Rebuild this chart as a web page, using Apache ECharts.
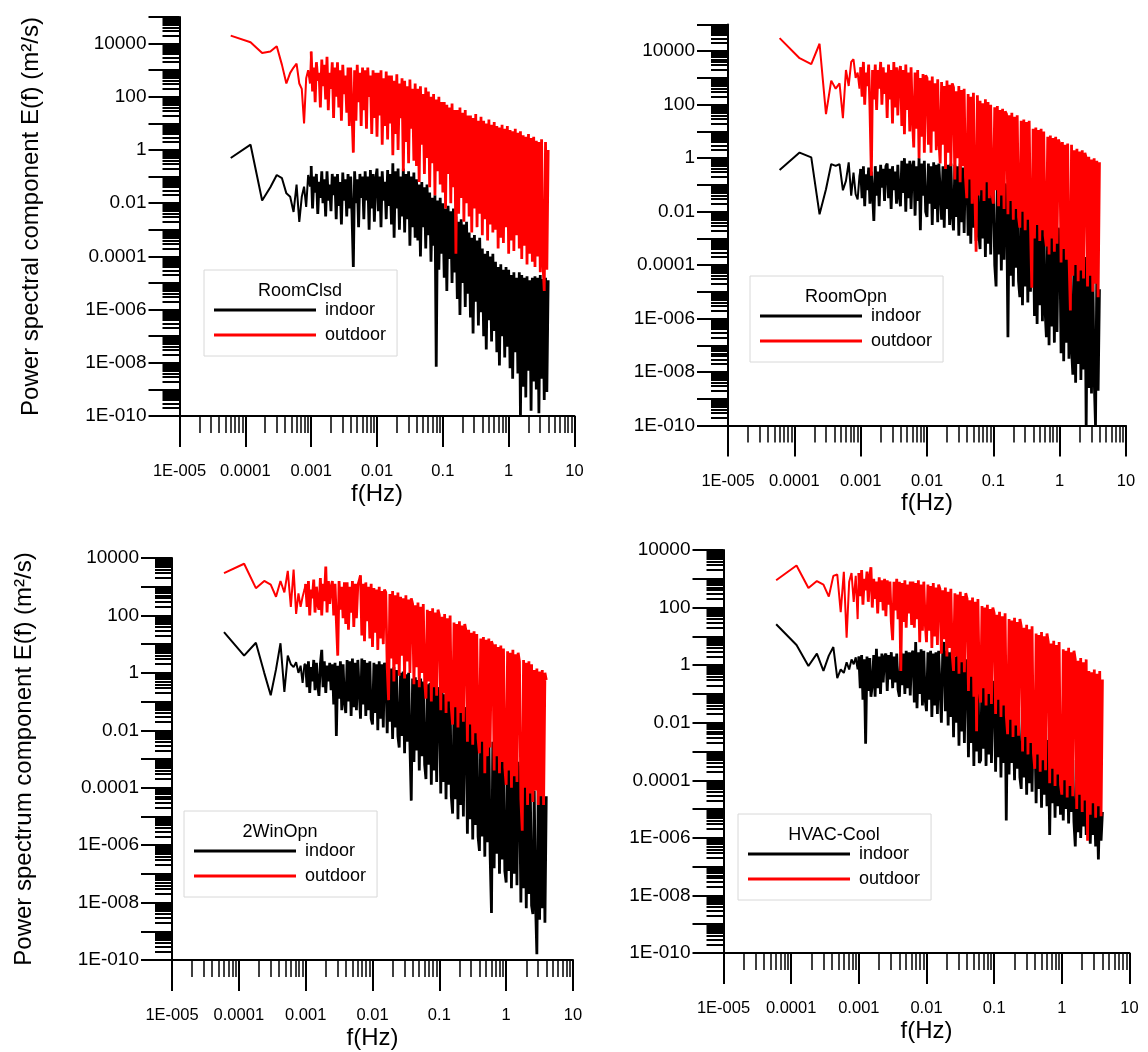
<!DOCTYPE html>
<html><head><meta charset="utf-8">
<script src="https://cdn.jsdelivr.net/npm/echarts@6/dist/echarts.min.js"></script>
<style>html,body{margin:0;padding:0;background:#fff}#c{width:1148px;height:1052px}</style>
</head><body><div id="c"></div><script>
// ---------------- DATA ----------------
// Frequency of each spectral point (Hz), shared by every series
const freqHz = [
0.00006,0.00012,0.00018,0.00024,0.0003,0.00036,0.00042,0.00048,0.00054,0.0006,0.00066,0.00072,0.00078,0.00084,0.0009,0.00096,
0.001,0.00105,0.0011,0.00115,0.0012,0.00126,0.00132,0.00138,0.00145,0.00151,
0.00158,0.00166,0.00174,0.00182,0.0019,0.002,0.00209,0.00219,0.00229,0.0024,
0.00251,0.00263,0.00275,0.00288,0.00302,0.00316,0.00331,0.00347,0.00363,0.0038,
0.00398,0.00417,0.00437,0.00457,0.00479,0.00501,0.00525,0.0055,0.00575,0.00603,
0.00631,0.00661,0.00692,0.00724,0.00759,0.00794,0.00832,0.00871,0.00912,0.00955,
0.01,0.0105,0.011,0.0115,0.012,0.0126,0.0132,0.0138,0.0145,0.0151,
0.0158,0.0166,0.0174,0.0182,0.019,0.02,0.0209,0.0219,0.0229,0.024,
0.0251,0.0263,0.0275,0.0288,0.0302,0.0316,0.0331,0.0347,0.0363,0.038,
0.0398,0.0417,0.0437,0.0457,0.0479,0.0501,0.0525,0.055,0.0575,0.0603,
0.0631,0.0661,0.0692,0.0724,0.0759,0.0794,0.0832,0.0871,0.0912,0.0955,
0.1,0.105,0.11,0.115,0.12,0.126,0.132,0.138,0.145,0.151,
0.158,0.166,0.174,0.182,0.19,0.2,0.209,0.219,0.229,0.24,
0.251,0.263,0.275,0.288,0.302,0.316,0.331,0.347,0.363,0.38,
0.398,0.417,0.437,0.457,0.479,0.501,0.525,0.55,0.575,0.603,
0.631,0.661,0.692,0.724,0.759,0.794,0.832,0.871,0.912,0.955,
1,1.05,1.1,1.15,1.2,1.26,1.32,1.38,1.45,1.51,
1.58,1.66,1.74,1.82,1.9,2,2.09,2.19,2.29,2.4,
2.51,2.63,2.75,2.88,3.02,3.16,3.31,3.47,3.63,3.8,
3.98];

// Power spectral component E(f), given as powers of ten: E = 10^value (m²/s)
const roomClsdIndoorLog10 = [
-0.3,0.2,-1.9,-1.4,-0.94,-1.06,-1.63,-1.76,-2.33,-1.3,-2.7,-1.76,-1.38,-2.14,-0.94,-1.38,
-0.6,-2.2,-1.0,-1.6,-0.9,-2.4,-1.2,-1.8,-0.8,-2.0,
-1.1,-2.5,-0.8,-1.9,-1.3,-2.3,-0.9,-1.7,-1.0,-2.6,
-0.9,-2.1,-1.2,-2.8,-0.85,-1.9,-1.1,-2.5,-0.9,-2.2,
-1.0,-2.4,-4.4,-0.8,-2.0,-1.1,-2.9,-0.9,-1.8,-1.0,
-2.6,-0.8,-1.9,-1.0,-3.0,-0.75,-2.2,-0.9,-2.7,-1.1,
-0.7,-2.3,-1.0,-2.9,-0.8,-1.9,-1.2,-2.6,-0.75,-2.1,
-0.9,-2.8,-0.5,-3.3,-0.8,-2.2,-0.7,-3.0,-1.0,-2.5,
-0.7,-3.1,-0.9,-2.6,-0.8,-3.6,-1.0,-2.9,-0.85,-3.3,
-1.1,-3.4,-1.3,-4.0,-1.2,-2.9,-1.4,-3.7,-1.3,-3.2,
-1.6,-4.2,-1.8,-3.6,-1.7,-8.15,-1.9,-4.5,-1.8,-3.9,
-2.0,-4.8,-2.2,-5.3,-2.1,-4.1,-2.3,-5.0,-2.2,-4.6,
-2.5,-5.6,-2.7,-6.2,-2.6,-5.0,-2.8,-5.9,-2.7,-5.4,
-3.1,-6.3,-3.3,-6.9,-3.2,-5.7,-3.4,-6.6,-3.3,-6.1,
-3.7,-7.0,-3.9,-7.5,-3.8,-6.4,-4.0,-7.2,-3.9,-6.8,
-4.2,-7.6,-4.4,-8.1,-4.3,-7.0,-4.5,-7.8,-4.4,-7.4,
-4.5,-8.2,-4.7,-8.6,-4.6,-7.6,-4.8,-8.4,-4.6,-10.0,
-4.7,-8.9,-4.8,-9.3,-4.75,-8.3,-4.9,-9.8,-4.8,-8.7,
-4.75,-9.0,-4.8,-9.9,-4.7,-8.6,-4.85,-9.4,-4.8,-9.1,
-4.9];
const roomClsdOutdoorLog10 = [
4.3,4.05,3.65,3.7,3.9,3.2,2.5,2.9,3.1,3.25,2.5,2.3,1.0,2.7,3.0,2.5,
3.7,2.2,3.1,1.8,3.3,2.6,2.9,1.6,3.4,2.4,
3.2,1.9,3.5,1.5,2.9,2.3,3.3,1.2,3.1,2.0,
3.3,1.6,3.0,1.1,3.2,2.1,2.8,1.4,3.1,0.9,
3.1,1.4,-0.1,3.0,1.1,3.2,1.8,2.9,0.9,3.1,
1.5,3.0,0.8,3.1,2.0,2.8,0.6,3.0,1.2,2.9,
0.5,2.9,1.3,3.0,0.2,2.7,0.9,2.95,0.4,2.8,
1.0,2.8,-0.2,2.6,0.6,2.85,0.0,2.5,1.2,2.7,
-0.8,2.6,0.3,2.4,-0.5,2.65,0.8,2.3,-0.4,2.5,
-0.6,2.3,-1.2,2.4,0.2,2.1,-0.9,2.35,-0.3,2.2,
-1.4,2.0,-0.5,2.1,-1.7,1.9,-0.8,2.0,-1.3,1.8,
-1.6,1.8,-2.2,1.7,-0.9,1.6,-2.0,1.75,-1.4,1.5,
-3.9,1.5,-2.4,1.6,-1.8,1.4,-2.7,1.5,-2.0,1.3,
-2.5,1.3,-3.1,1.2,-2.2,1.35,-2.9,1.1,-2.4,1.25,
-3.2,1.1,-2.6,1.0,-3.4,1.15,-2.8,0.95,-3.1,1.05,
-3.0,0.9,-3.7,0.85,-3.3,0.95,-3.5,0.8,-2.9,0.9,
-3.9,0.75,-3.4,0.7,-3.8,0.8,-3.2,0.65,-3.7,0.7,
-4.1,0.55,-3.6,0.5,-4.3,0.6,-3.9,0.45,-4.2,0.5,
-4.4,0.35,-4.0,0.3,-4.6,0.4,-4.2,-5.3,0.3,-4.5,
0.0];
const roomOpnIndoorLog10 = [
-0.44,0.21,0.03,-2.1,-1.16,-0.22,-0.29,-0.22,-1.2,-0.85,-0.16,-1.4,-0.54,-1.35,-1.54,-0.66,
-0.4,-1.5,-0.3,-1.8,-0.6,-1.2,-0.35,-1.7,-0.5,-1.3,
-2.35,-0.3,-1.4,-0.5,-1.8,-0.25,-1.1,-0.4,-1.6,-0.3,
-0.2,-1.5,-0.4,-1.9,-0.3,-1.2,-0.5,-1.7,-0.25,-1.4,
-1.8,-0.1,-1.3,0.0,-2.0,-0.2,-1.5,-0.1,-1.9,-0.3,
-0.1,-2.15,-0.3,-1.6,0.0,-2.7,-0.2,-1.4,-0.1,-2.0,
-2.2,-0.2,-1.7,-0.3,-2.5,-0.15,-1.9,-0.25,-2.4,-0.2,
-0.2,-2.3,-0.3,-2.6,-0.15,-1.9,-0.25,-2.5,-0.2,-2.1,
-2.7,-0.25,-2.2,-0.3,-2.9,-0.2,-2.4,-0.35,-2.8,-0.25,
-0.4,-2.9,-0.5,-3.2,-0.35,-2.6,-0.45,-3.1,-0.4,-2.8,
-3.4,-0.6,-3.0,-0.65,-3.7,-0.55,-3.2,-0.7,-3.6,-0.6,
-0.9,-4.0,-4.8,-0.85,-3.6,-1.0,-4.2,-0.9,-3.8,-0.95,
-1.2,-6.7,-1.15,-4.4,-1.3,-4.8,-1.2,-4.1,-1.25,-4.6,
-5.2,-1.6,-5.5,-1.5,-4.8,-1.65,-5.4,-1.55,-5.0,-1.7,
-2.0,-5.9,-1.95,-6.2,-2.1,-5.5,-2.0,-6.1,-1.9,-5.7,
-6.7,-2.5,-7.0,-2.4,-6.3,-2.55,-6.9,-2.45,-6.5,-2.6,
-2.9,-7.3,-2.85,-7.6,-3.0,-6.9,-2.9,-7.5,-2.95,-7.1,
-8.1,-3.5,-8.4,-3.4,-7.7,-3.6,-8.3,-3.5,-7.9,-3.7,
-10.0,-4.2,-8.6,-4.1,-8.8,-4.3,-8.2,-10.0,-4.4,-8.7,
-4.9];
const roomOpnOutdoorLog10 = [
4.49,3.74,3.52,4.28,1.65,2.9,2.6,2.8,1.5,3.3,2.7,3.6,3.7,3.0,3.2,2.6,
3.4,2.3,3.6,2.0,3.2,2.7,3.5,1.9,-0.66,3.3,
2.2,3.5,1.8,3.3,2.6,3.6,2.0,3.4,2.4,3.2,
1.5,3.5,2.2,3.3,1.3,3.6,1.9,3.4,1.6,3.2,
3.45,1.2,3.3,0.9,3.5,1.8,3.2,1.0,3.4,1.5,
0.4,3.2,1.1,3.3,0.0,3.0,0.8,3.15,0.2,3.1,
3.0,0.5,2.9,0.2,3.05,1.0,2.8,0.3,2.95,0.7,
-0.2,2.85,0.5,2.7,-0.4,2.9,0.2,2.75,-0.3,2.8,
2.65,-0.8,2.5,0.0,2.7,-0.9,2.55,-0.3,2.6,-0.7,
-1.5,2.4,-0.8,2.3,-1.7,2.45,-1.1,-3.5,2.35,-1.4,
2.15,-1.2,2.05,-1.6,2.2,-0.9,2.1,-1.5,2.0,-1.3,
-1.7,1.9,-1.2,1.95,-1.8,1.8,-1.4,1.85,-1.9,1.75,
1.65,-2.1,1.6,-1.6,1.7,-2.3,1.55,-1.9,1.6,-2.2,
-2.6,1.4,-2.0,1.45,-2.7,1.35,-2.3,1.4,-2.5,-4.85,
1.1,-3.0,1.15,-2.5,1.05,-3.1,1.1,-2.7,1.0,-2.9,
-3.3,0.8,-3.6,0.85,-3.0,0.75,-3.5,0.8,-3.2,0.7,
0.55,-3.9,0.6,-3.4,0.5,-3.8,0.55,-3.6,-5.7,0.5,
-4.4,0.3,-4.0,0.35,-4.6,0.25,-4.2,0.3,-4.5,0.2,
0.0,-4.8,0.05,-4.4,-0.05,-5.0,0.0,-4.7,-0.1,-5.2,
-0.15];
const twoWinOpnIndoorLog10 = [
1.42,0.6,1.05,0.0,-0.78,0.12,1.03,-0.66,0.6,0.3,0.2,0.37,0.0,0.25,-0.35,0.3,
0.3,-0.5,0.4,-0.7,0.2,-0.3,0.45,-0.6,0.35,-0.4,
-0.8,0.3,0.8,-0.5,0.4,-0.7,0.25,-0.3,0.35,-0.6,
0.3,-1.1,0.35,-2.2,0.25,-0.9,0.4,-1.3,0.3,-1.0,
-1.4,0.45,-1.0,0.4,-1.5,0.5,-1.2,0.35,-1.3,0.45,
0.4,-1.6,0.5,-1.1,0.45,-1.5,0.35,-1.3,0.4,-1.6,
-1.8,0.35,-1.4,0.3,-2.0,0.4,-1.6,0.3,-1.9,0.35,
0.2,-2.1,0.25,-1.7,0.15,-2.3,0.2,-1.9,0.1,-2.2,
-2.6,0.0,-2.2,0.05,-2.8,-0.05,-2.4,0.0,-2.5,-4.45,
-0.2,-3.1,-0.15,-2.7,-0.25,-3.4,-0.2,-2.9,-0.3,-3.2,
-3.7,-0.4,-3.2,-0.35,-3.9,-0.45,-3.4,-0.4,-3.8,-0.5,
-0.7,-4.2,-0.65,-3.8,-0.75,-4.4,-0.7,-3.9,-0.8,-4.3,
-4.9,-1.1,-4.4,-1.05,-5.1,-1.15,-4.6,-1.1,-5.0,-1.2,
-1.5,-5.6,-1.45,-5.1,-1.55,-5.8,-1.5,-5.3,-1.6,-5.7,
-6.2,-1.9,-5.7,-1.85,-6.4,-1.95,-5.9,-1.9,-6.3,-8.36,
-2.4,-6.8,-2.35,-6.3,-2.45,-7.0,-2.4,-6.5,-2.5,-6.9,
-7.3,-3.0,-6.9,-2.95,-7.5,-3.05,-7.0,-3.0,-7.4,-3.1,
-3.6,-8.0,-3.55,-7.5,-3.65,-8.2,-3.6,-7.7,-3.7,-8.1,
-8.4,-4.1,-8.0,-9.8,-4.05,-8.6,-4.15,-8.2,-4.1,-8.7,
-4.3];
const twoWinOpnOutdoorLog10 = [
3.47,3.8,2.95,3.2,3.07,2.65,3.2,2.8,3.55,2.3,3.6,2.05,2.77,2.3,2.65,2.9,
3.1,2.3,3.2,2.0,2.9,2.6,3.25,2.1,3.0,2.4,
2.2,3.3,2.0,3.1,2.5,3.7,2.1,3.2,2.4,3.0,
3.2,2.0,3.1,1.8,0.6,3.2,2.2,3.0,1.9,3.15,
1.7,3.15,1.5,3.0,2.1,3.2,1.6,3.1,1.9,3.05,
3.2,3.4,1.3,3.1,1.1,3.15,1.8,3.0,1.2,3.1,
0.9,2.95,1.4,2.9,0.8,3.0,1.2,2.85,1.0,2.9,
2.8,0.2,-0.95,2.75,0.5,2.85,-0.3,2.7,0.3,2.8,
-0.1,2.65,0.6,2.6,-0.2,2.7,0.4,2.55,0.0,2.6,
2.4,-0.4,2.35,0.2,2.45,-0.5,2.3,0.0,2.4,-0.3,
-0.9,2.2,-0.3,2.15,-1.0,2.25,-0.5,2.1,-0.8,2.2,
2.0,-1.3,1.95,-0.7,2.05,-1.4,1.9,-1.0,2.0,-1.2,
-1.8,1.75,-1.2,1.7,-1.9,1.8,-1.4,1.65,-1.7,1.7,
1.45,-2.4,1.5,-1.8,1.4,-2.5,1.45,-2.1,1.35,-2.3,
-2.8,1.2,-2.4,1.25,-3.5,1.15,-2.9,1.2,-2.6,1.1,
0.95,-3.4,1.0,-2.9,0.9,-3.5,0.95,-3.1,0.85,-3.3,
-3.9,0.75,-3.4,0.7,-4.0,0.8,-3.6,0.65,-3.8,0.7,
0.4,-4.4,-5.5,0.45,-4.0,0.35,-4.6,0.4,-4.2,0.3,
-4.5,0.1,-4.1,0.15,-4.6,0.05,-4.3,0.1,-4.6,0.0,
-0.25];
const hvacCoolIndoorLog10 = [
1.42,0.7,-0.03,0.4,-0.2,0.33,0.63,-0.45,-0.15,-0.27,0.1,-0.15,0.2,0.03,0.27,-0.15,
0.3,-0.8,0.35,-1.2,0.2,-2.73,0.3,-0.9,0.25,-1.1,
-0.7,0.35,-1.1,0.57,-0.8,0.3,-1.0,0.4,-0.6,0.3,
0.4,-0.9,0.35,-0.5,0.45,-0.8,0.3,-0.6,0.4,-0.85,
-1.1,0.45,-0.7,0.4,-1.0,0.5,-0.8,0.45,-1.05,0.4,
0.5,-1.3,0.8,-1.5,0.45,-1.0,0.55,-1.4,0.5,-1.2,
-1.6,0.45,-1.2,0.5,-1.8,0.4,-1.4,0.45,-1.7,0.5,
0.5,-2.0,0.55,0.8,-1.6,0.5,-2.1,0.45,-1.8,0.5,
-2.5,0.3,-2.0,0.35,-2.8,0.25,-2.3,0.3,-2.7,0.2,
-0.1,-3.2,-0.05,-2.7,-0.15,-3.5,-0.1,-3.0,-0.2,-3.4,
-3.3,-0.45,-2.9,-0.4,-3.5,-0.5,-3.1,-0.45,-3.4,-0.55,
-0.8,-3.7,-0.75,-3.2,-0.85,-3.9,-0.8,-3.4,-0.9,-5.4,
-1.2,-3.8,-1.15,-3.4,-1.25,-4.0,-1.2,-3.6,-1.3,-3.9,
-4.3,-1.6,-3.9,-1.55,-4.5,-1.65,-4.1,-1.6,-4.4,-1.7,
-2.0,-4.8,-1.95,-4.3,-2.05,-4.95,-2.0,-4.5,-2.1,-4.9,
-2.6,-5.9,-2.55,-4.8,-2.65,-5.3,-2.6,-4.9,-2.7,-5.2,
-3.2,-5.4,-3.15,-5.0,-3.25,-5.5,-3.2,-5.1,-3.3,-5.45,
-6.3,-4.0,-5.8,-3.95,-6.0,-4.05,-5.6,-4.0,-5.9,-4.1,
-4.6,-6.2,-4.55,-5.9,-4.65,-6.3,-4.6,-6.75,-4.7,-6.1,
-5.1];
const hvacCoolOutdoorLog10 = [
2.95,3.46,2.68,2.92,2.8,2.38,3.1,3.15,1.84,3.24,0.95,2.9,3.2,2.2,3.1,1.6,
3.2,2.4,3.3,2.1,3.0,2.6,3.25,2.2,3.1,3.4,
2.0,3.0,2.3,2.9,1.8,3.05,2.2,2.95,1.9,3.0,
1.7,2.95,2.1,2.9,1.5,0.87,2.9,1.9,3.0,1.6,
2.9,-0.2,2.85,1.5,2.95,1.3,2.8,1.8,2.9,1.4,
2.9,1.3,2.85,1.6,2.95,0.8,2.8,1.2,2.9,1.5,
0.8,2.8,1.2,2.75,0.6,2.85,1.0,2.7,0.7,2.8,
2.65,0.4,2.6,0.9,2.7,0.3,2.55,0.6,2.65,0.35,
-0.2,2.5,0.3,2.45,-0.3,2.55,0.1,2.4,-0.25,2.5,
2.3,-0.9,2.25,-0.4,2.35,-1.1,2.2,-2.3,2.3,-0.8,
-1.3,2.05,-0.8,2.0,-1.4,2.1,-1.0,1.95,-1.35,2.0,
1.8,-1.7,1.75,-1.2,1.85,-1.8,1.7,-1.4,1.8,-1.75,
-2.4,1.6,-1.9,1.55,-2.5,1.65,-2.1,1.5,-2.45,1.6,
1.35,-3.0,1.3,-2.5,1.4,-3.1,1.25,-2.7,1.35,-3.05,
-3.6,1.1,-3.1,1.05,-3.7,1.15,-3.3,1.0,-3.65,1.1,
0.8,-4.1,0.75,-3.6,0.85,-4.2,0.7,-3.8,0.8,-4.15,
-4.5,0.55,-4.0,0.5,-4.6,0.6,-4.2,0.45,-4.55,0.5,
0.2,-5.0,0.15,-4.5,0.25,-5.1,0.1,-4.7,0.2,-6.1,
-0.2,-5.2,-0.25,-4.8,-0.15,-5.3,-0.3,-4.9,-0.2,-5.25,
-0.5];

const panelTitles = ['RoomClsd', 'RoomOpn', '2WinOpn', 'HVAC-Cool'];
const seriesNames = ['indoor', 'outdoor'];
const yAxisTitles = ['Power spectral component E(f) (m\u00B2/s)', '', 'Power spectrum component E(f) (m\u00B2/s)', ''];
const xAxisTitle = 'f(Hz)';
const yAxisMax = [1e5, 1e5, 1e4, 1e4];
// tick labels keyed by decade exponent
const xTickLabels = {'-5':'1E-005','-4':'0.0001','-3':'0.001','-2':'0.01','-1':'0.1','0':'1','1':'10'};
const yTickLabels = {'4':'10000','2':'100','0':'1','-2':'0.01','-4':'0.0001','-6':'1E-006','-8':'1E-008','-10':'1E-010'};

// ---------------- LAYOUT / STYLE ----------------
const FONT = "'Liberation Sans', Arial, sans-serif";
const panelData = [
  [roomClsdIndoorLog10, roomClsdOutdoorLog10],
  [roomOpnIndoorLog10, roomOpnOutdoorLog10],
  [twoWinOpnIndoorLog10, twoWinOpnOutdoorLog10],
  [hvacCoolIndoorLog10, hvacCoolOutdoorLog10]
];
const frames = [
  {grid:{left:179.5, top:17, width:395, height:399}, box:[204,270]},
  {grid:{left:728, top:24.5, width:398, height:401}, box:[750,276]},
  {grid:{left:172, top:558, width:401, height:402}, box:[184,811]},
  {grid:{left:723.5, top:550, width:406, height:403}, box:[738,814]}
];
const colors = ['#000000', '#ff0000'];
const SPARSE_END = 17;   // the first, well separated spectral points are drawn thinner

function decade(v){ return String(Math.round(Math.log10(v))); }

const grids = [], xAxes = [], yAxes = [], series = [], legends = [], graphics = [];
frames.forEach((fr, i) => {
  grids.push(Object.assign({containLabel:false, outerBoundsMode:'none'}, fr.grid));
  xAxes.push({
    type:'log', logBase:10, gridIndex:i, min:1e-5, max:10, interval:1, splitNumber:6,
    axisLine:{show:true, onZero:false, lineStyle:{color:'#000', width:2}},
    axisTick:{show:true, length:31, lineStyle:{color:'#000', width:2}},
    minorTick:{show:true, splitNumber:9, length:17, lineStyle:{color:'#000', width:1.5}},
    splitLine:{show:false}, minorSplitLine:{show:false},
    axisLabel:{formatter:v => xTickLabels[decade(v)] || '', fontSize:16.5, color:'#000', margin:47, fontFamily:FONT},
    name:xAxisTitle, nameLocation:'middle', nameGap:66,
    nameTextStyle:{fontSize:24, color:'#000', fontFamily:FONT}
  });
  yAxes.push({
    type:'log', logBase:10, gridIndex:i, min:1e-10, max:yAxisMax[i], interval:1, splitNumber:15,
    axisLine:{show:true, onZero:false, lineStyle:{color:'#000', width:2}},
    axisTick:{show:true, length:31, lineStyle:{color:'#000', width:2}},
    minorTick:{show:true, splitNumber:9, length:17, lineStyle:{color:'#000', width:2}},
    splitLine:{show:false}, minorSplitLine:{show:false},
    axisLabel:{formatter:v => yTickLabels[decade(v)] || '', fontSize:19, color:'#000', margin:33, fontFamily:FONT},
    name:yAxisTitles[i], nameLocation:'middle', nameGap:136, nameRotate:90,
    nameTextStyle:{fontSize:24, color:'#000', fontFamily:FONT}
  });
  panelData[i].forEach((vals, s) => {
    const pts = freqHz.map((f, k) => [f, Math.pow(10, vals[k])]);
    const common = {
      type:'line', name:seriesNames[s], xAxisIndex:i, yAxisIndex:i,
      showSymbol:false, symbol:'none', silent:true, animation:false,
      itemStyle:{color:colors[s]}, z:2 + s
    };
    // sparse low-frequency part
    series.push(Object.assign({}, common, {
      data: pts.slice(0, SPARSE_END), lineStyle:{color:colors[s], width:2}
    }));
    // dense part of the spectrum
    series.push(Object.assign({}, common, {
      data: pts.slice(SPARSE_END - 1), lineStyle:{color:colors[s], width:2.8, join:'bevel'}
    }));
  });
  const bx = fr.box[0], by = fr.box[1];
  legends.push({
    left:bx, top:by, orient:'vertical', icon:'rect', itemWidth:102, itemHeight:3, itemGap:5,
    padding:[30, 11, 11, 10], backgroundColor:'#fff', borderColor:'#d8d8d8', borderWidth:1,
    data:seriesNames, selectedMode:false,
    textStyle:{fontSize:18, color:'#000', fontFamily:FONT, lineHeight:20, padding:[0,0,0,4]}
  });
  graphics.push({
    type:'text', x:bx + 96, y:by + 21, z:100,
    style:{text:panelTitles[i], fill:'#000', font:'18px ' + FONT, align:'center', verticalAlign:'middle'}
  });
});

const chart = echarts.init(document.getElementById('c'), null, {renderer:'canvas'});
chart.setOption({
  animation:false, backgroundColor:'#fff',
  grid:grids, xAxis:xAxes, yAxis:yAxes, series:series, legend:legends, graphic:graphics
});
</script></body></html>
